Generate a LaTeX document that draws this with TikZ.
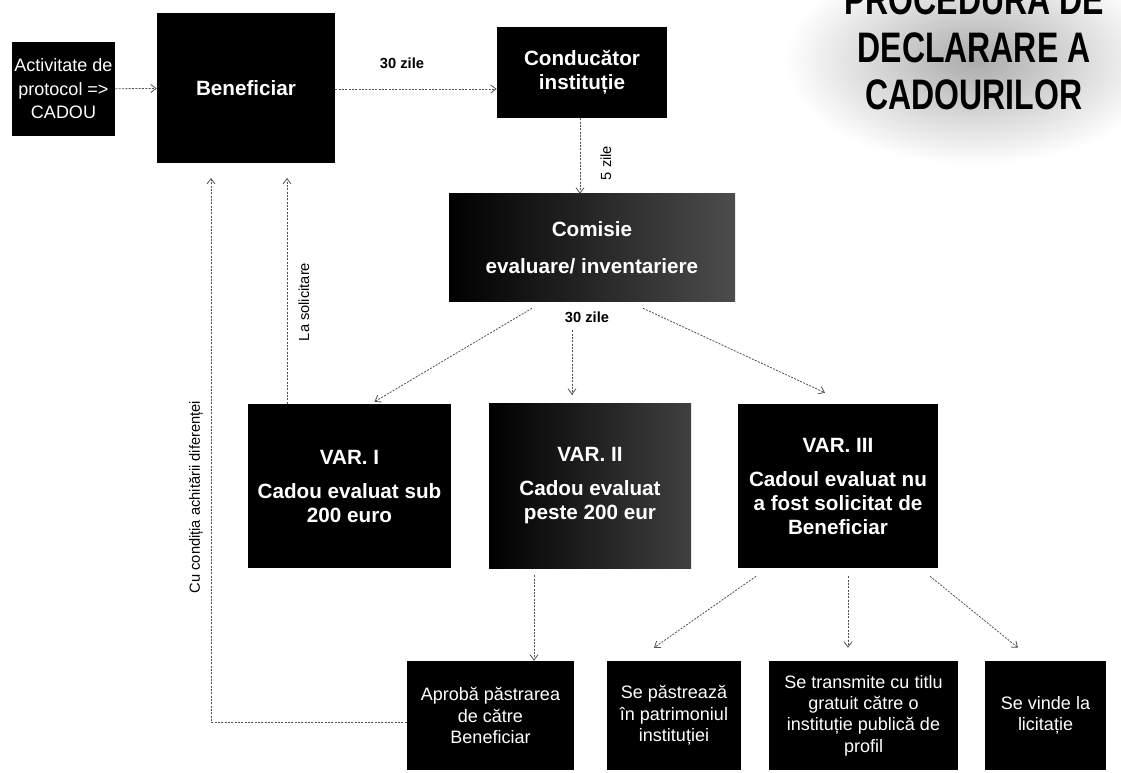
\documentclass[tikz,border=0pt]{standalone}
\usepackage{fontspec}
\setmainfont{Liberation Sans}
\usetikzlibrary{arrows.meta, positioning, calc}
\definecolor{boxfill}{HTML}{000000}
\definecolor{linkcolor}{HTML}{505050}

\begin{document}
\begin{tikzpicture}[
    x=0.75pt, y=-0.75pt,
    sz/.style 2 args={minimum width=#1*0.75pt, minimum height=#2*0.75pt},
    box/.style={fill=boxfill, text=white, inner sep=1pt, align=center},
    big/.style={box, font=\fontsize{15.5}{18}\selectfont\bfseries},
    small/.style={box, font=\fontsize{13.5}{16}\selectfont},
    title/.style={font=\fontsize{32}{35}\selectfont\bfseries},
    lab/.style={font=\fontsize{11}{13}\selectfont},
    conn/.style={draw=linkcolor, line width=0.6pt, dash pattern=on 1.5pt off 1pt,
        -{Straight Barb[length=4pt, width=6pt]}},
]
\useasboundingbox (0,0) rectangle (1121,773);

% ---------------------------------------------------------------- title
\shade[inner color=black!33, outer color=white] (785,-45) rectangle (1165,165);
\foreach \y/\ttl in {15/PROCEDURA DE, 63/DECLARARE A, 110/CADOURILOR}{
    \node[title, anchor=base] (t\y) at (974, \y) {\scalebox{0.75}[1]{\ttl}};
}

% ---------------------------------------------------------------- top row
\node[small, sz={103}{94}, font=\fontsize{13.5}{17.6}\selectfont] (act) at (63.5, 89)
    {Activitate de\\protocol =>\\CADOU};
\node[big, sz={178}{150}] (ben) at (246, 88) {Beneficiar};
\node[big, sz={170}{91}] (cond) at (582, 72.5) {Conducător\\instituție};
\node[big, sz={286}{108}, left color=black, right color=black!70] (com) at (592, 248)
    {Comisie\\[9.5pt]evaluare/ inventariere};

% ---------------------------------------------------------------- variants
\node[big, sz={203}{164}] (var1) at (349.5, 486)
    {VAR. I\\[7.5pt]Cadou evaluat sub\\200 euro};
\node[big, sz={202}{164}, left color=black, right color=black!75] (var2) at (590, 486)
    {VAR. II\\[7.5pt]Cadou evaluat\\peste 200 eur};
\node[big, sz={200}{164}] (var3) at (838, 486)
    {VAR. III\\[7.5pt]Cadoul evaluat nu\\a fost solicitat de\\Beneficiar};

% ---------------------------------------------------------------- outcomes
\node[small, sz={167}{109}] (apr) at (490.5, 715.5) {Aprobă păstrarea\\de către\\Beneficiar};
\node[small, sz={134}{109}] (pas) at (674, 715.5) {Se păstrează\\în patrimoniul\\instituției};
\node[small, sz={189}{109}] (tra) at (863.5, 715.5)
    {Se transmite cu titlu\\gratuit  către o\\instituție publică de\\profil};
\node[small, sz={121}{109}] (vin) at (1045.5, 715.5) {Se vinde la\\licitație};

% ---------------------------------------------------------------- links
\draw[conn] (act) -- (ben);
\draw[conn] ($(ben.east)+(0,1)$) -- ($(cond.west)+(0,16.5)$);
\node[lab, font=\fontsize{11}{13}\selectfont\bfseries] (d30a) at (402, 63) {30 zile};
\draw[conn] ($(cond.south)+(-2,0)$) -- ($(com.north)+(-12,0)$);
\node[lab, rotate=90] (d5) at (606, 163) {5 zile};

\draw[conn] ($(com.south)+(-60,6)$) -- ($(var1.north)+(25,-2)$);
\draw[conn] ($(com.south)+(-20,28)$) -- ($(var2.north)+(-18,-9)$);
\draw[conn] ($(com.south)+(51,6)$) -- ($(var3.north)+(-13,-11)$);
\node[lab, font=\fontsize{11}{13}\selectfont\bfseries] (d30b) at (587, 317) {30 zile};

\draw[conn] ($(var2.south)+(-56,7)$) -- ($(apr.north)+(43.5,0)$);
\draw[conn] ($(var3.south)+(-82,8)$) -- ($(pas.north)+(-20,-13)$);
\draw[conn] ($(var3.south)+(10,8)$) -- ($(tra.north)+(-15.5,-13)$);
\draw[conn] ($(var3.south)+(92,8)$) -- ($(vin.north)+(-27.5,-13)$);

% back to the beneficiary
\draw[conn, shorten >=11pt] ($(var1.north)+(-62.5,0)$) -- ($(ben.south)+(41,0)$);
\node[lab, rotate=90] (solic) at (304, 302) {La solicitare};
\coordinate (bend) at (211, 722);
\draw[conn, shorten >=11pt] ($(apr.west)+(0,6.5)$) -| (bend |- ben.south);
\node[lab, rotate=90] (cond2) at (196, 497) {Cu condiția achitării diferenței};

\end{tikzpicture}
\end{document}
